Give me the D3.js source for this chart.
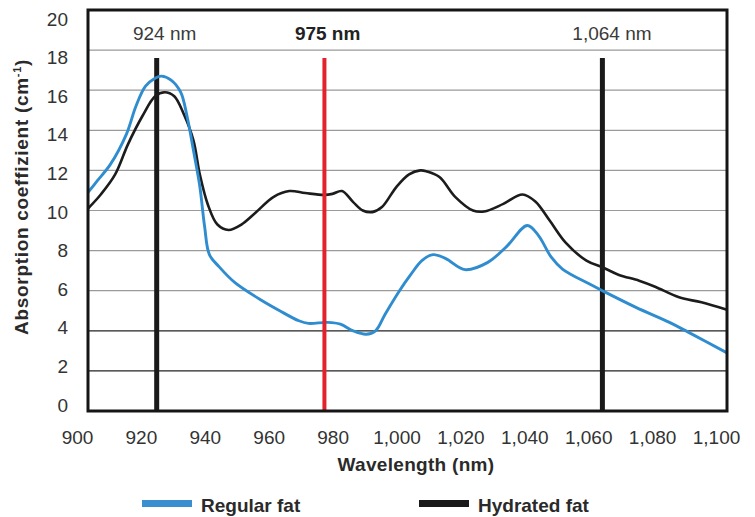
<!DOCTYPE html>
<html lang="en">
<head>
<meta charset="UTF-8">
<title>Absorption coefficient</title>
<script src="https://cdnjs.cloudflare.com/ajax/libs/d3/7.8.5/d3.min.js"></script>
<style>
    body { margin: 0; background: #fff; }
    svg { display: block; font-family: Arial, "Liberation Sans", sans-serif; }
</style>
</head>
<body>
<div id="wrapper"></div>
<script>
    // data
    const regularWavelengths = [900, 903, 907, 912, 915, 918, 921, 923, 926, 929, 931, 933, 935, 936.5, 938, 941, 946, 953.5, 960, 966, 969, 975, 979, 983, 987, 990, 993, 997.5, 1001, 1004.5, 1008, 1012, 1018, 1025, 1031, 1037.5, 1041, 1045, 1048.5, 1057, 1061, 1071.5, 1082, 1088, 1100]
    const regularValues = [10.9, 11.5, 12.3, 13.8, 15.2, 16.2, 16.6, 16.7, 16.5, 15.9, 14.7, 13.0, 11.2, 9.2, 7.8, 7.2, 6.4, 5.6, 5.0, 4.5, 4.37, 4.42, 4.33, 4.0, 3.83, 4.0, 4.83, 6.0, 6.8, 7.5, 7.8, 7.6, 7.05, 7.4, 8.2, 9.25, 8.75, 7.67, 7.08, 6.33, 6.0, 5.17, 4.42, 3.92, 2.9]

    const hydratedWavelengths = [900, 904, 908.5, 912.5, 917, 921, 924, 927, 930, 933, 935, 937.5, 940.5, 944, 948, 952.5, 958, 963, 968, 974, 976.5, 979.5, 983, 986, 989, 992, 996.5, 1000.5, 1004, 1006, 1010, 1015, 1020.5, 1024, 1030, 1036, 1040, 1044.5, 1049.5, 1056, 1061, 1066, 1072.5, 1077.5, 1085, 1092, 1100]
    const hydratedValues = [10.1, 10.8, 11.8, 13.3, 14.7, 15.7, 15.9, 15.7, 14.8, 13.5, 11.8, 10.3, 9.3, 9.03, 9.3, 9.9, 10.67, 10.97, 10.87, 10.78, 10.83, 10.97, 10.42, 10.0, 9.92, 10.17, 11.17, 11.8, 12.0, 11.95, 11.67, 10.67, 10.0, 9.95, 10.33, 10.8, 10.45, 9.5, 8.4, 7.5, 7.17, 6.8, 6.5, 6.2, 5.67, 5.42, 5.05]

    const xTicks = [900, 920, 940, 960, 980, 1000, 1020, 1040, 1060, 1080, 1100]
    const yTicks = [0, 2, 4, 6, 8, 10, 12, 14, 16, 18, 20]

    const markerLabels = ['924 nm', '975 nm', '1,064 nm']
    const markerWavelengths = [924, 975, 1064]
    const markerLinePositions = [921.5, 974, 1061]
    const markerTop = 17.6

    const seriesNames = ['Regular fat', 'Hydrated fat']

    // sizes
    const dimensions = {
        width: 755,
        height: 517,
        margin: { top: 10, right: 28, bottom: 106, left: 88 }
    }
    dimensions.boundedWidth = dimensions.width - dimensions.margin.left - dimensions.margin.right
    dimensions.boundedHeight = dimensions.height - dimensions.margin.top - dimensions.margin.bottom

    const svg = d3.select('#wrapper').append('svg')
        .attr('width', dimensions.width)
        .attr('height', dimensions.height)

    const bounds = svg.append('g')
        .attr('transform', `translate(${dimensions.margin.left},${dimensions.margin.top})`)

    const xScale = d3.scaleLinear()
        .domain([900, 1100])
        .range([0, dimensions.boundedWidth])

    const yScale = d3.scaleLinear()
        .domain([0, 20])
        .range([dimensions.boundedHeight, 0])

    // the tick numbers sit on a slightly different spacing than the grid
    const yLabelScale = d3.scaleLinear()
        .domain([0, 20])
        .range([dimensions.boundedHeight - 6, 9])

    // grid
    bounds.append('g')
        .selectAll('line')
        .data(yTicks.filter(d => d > 0 && d < 20))
        .join('line')
            .attr('x1', 0)
            .attr('x2', dimensions.boundedWidth)
            .attr('y1', d => yScale(d))
            .attr('y2', d => yScale(d))
            .attr('stroke', d => d <= 4 ? '#222' : '#9a9a9a')
            .attr('stroke-width', 1.2)

    // curves
    const line = d3.line()
        .x(d => xScale(d[0]))
        .y(d => yScale(d[1]))
        .curve(d3.curveCatmullRom.alpha(0.5))

    const regular = d3.zip(regularWavelengths, regularValues)
    const hydrated = d3.zip(hydratedWavelengths, hydratedValues)

    // black marker lines behind the curves
    const markers = bounds.append('g')
    markers.selectAll('line')
        .data(markerLinePositions.filter((d, i) => i !== 1))
        .join('line')
            .attr('x1', d => xScale(d))
            .attr('x2', d => xScale(d))
            .attr('y1', yScale(markerTop))
            .attr('y2', dimensions.boundedHeight)
            .attr('stroke', '#1a1a1a')
            .attr('stroke-width', 5)

    bounds.append('path')
        .attr('d', line(hydrated))
        .attr('fill', 'none')
        .attr('stroke', '#1c1c1c')
        .attr('stroke-width', 2.6)
        .attr('stroke-linejoin', 'round')

    bounds.append('path')
        .attr('d', line(regular))
        .attr('fill', 'none')
        .attr('stroke', '#2f8dcf')
        .attr('stroke-width', 2.9)
        .attr('stroke-linejoin', 'round')

    // red 975 line on top
    bounds.append('line')
        .attr('x1', xScale(markerLinePositions[1]))
        .attr('x2', xScale(markerLinePositions[1]))
        .attr('y1', yScale(markerTop))
        .attr('y2', dimensions.boundedHeight)
        .attr('stroke', '#e3232b')
        .attr('stroke-width', 4)

    bounds.append('g')
        .selectAll('text')
        .data(markerLabels)
        .join('text')
            .attr('x', (d, i) => xScale(markerWavelengths[i]))
            .attr('y', 30)
            .attr('text-anchor', 'middle')
            .style('font-size', '19px')
            .style('font-weight', (d, i) => i === 1 ? 'bold' : 'normal')
            .attr('fill', (d, i) => i === 1 ? '#222' : '#3a3a3a')
            .text(d => d)

    // frame
    bounds.append('rect')
        .attr('width', dimensions.boundedWidth)
        .attr('height', dimensions.boundedHeight)
        .attr('fill', 'none')
        .attr('stroke', '#151515')
        .attr('stroke-width', 3)

    // axes
    const xAxis = bounds.append('g')
        .attr('transform', `translate(0,${dimensions.boundedHeight})`)
        .call(d3.axisBottom(xScale).tickValues(xTicks).tickFormat(d3.format(',')).tickSize(0).tickPadding(20))
    xAxis.select('.domain').remove()
    xAxis.selectAll('text')
        .attr('dx', -11)
        .attr('fill', '#333')
        .style('font-size', '19px')
        .style('font-family', 'Arial, "Liberation Sans", sans-serif')

    const yAxis = bounds.append('g')
        .call(d3.axisLeft(yLabelScale).tickValues(yTicks).tickSize(0).tickPadding(20))
    yAxis.select('.domain').remove()
    yAxis.selectAll('text')
        .attr('fill', '#333')
        .style('font-size', '19px')
        .style('font-family', 'Arial, "Liberation Sans", sans-serif')

    svg.append('text')
        .attr('x', 416)
        .attr('y', 471)
        .attr('text-anchor', 'middle')
        .style('font-size', '19px')
        .style('font-weight', 'bold')
        .style('letter-spacing', '0.3px')
        .attr('fill', '#2a2a2a')
        .text('Wavelength (nm)')

    const yTitle = svg.append('text')
        .attr('transform', 'translate(28,197) rotate(-90)')
        .attr('text-anchor', 'middle')
        .style('font-size', '19px')
        .style('font-weight', 'bold')
        .style('letter-spacing', '0.7px')
        .attr('fill', '#2a2a2a')
    yTitle.append('tspan').text('Absorption coeffizient (cm')
    yTitle.append('tspan').attr('dy', -7).style('font-size', '11px').text('-1')
    yTitle.append('tspan').attr('dy', 7).text(')')

    // legend
    const legendColors = ['#3a8fd0', '#1a1a1a']
    const legendX = [142, 419]
    const legend = svg.append('g')
        .selectAll('g')
        .data(seriesNames)
        .join('g')
            .attr('transform', (d, i) => `translate(${legendX[i]},500)`)
    legend.append('rect')
        .attr('width', 50)
        .attr('height', 7)
        .attr('fill', (d, i) => legendColors[i])
    legend.append('text')
        .attr('x', 59)
        .attr('y', 12)
        .style('font-size', '19px')
        .style('font-weight', 'bold')
        .attr('fill', '#2a2a2a')
        .text(d => d)
</script>
</body>
</html>
